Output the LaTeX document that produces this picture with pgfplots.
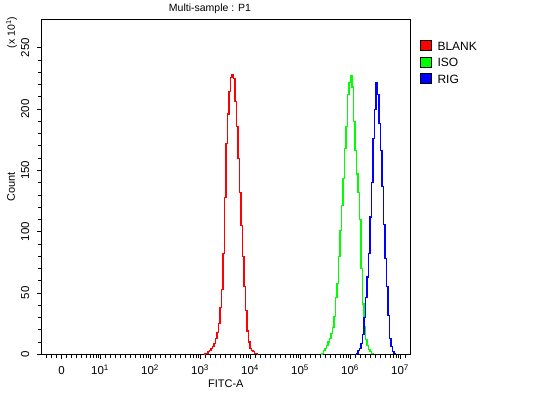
\documentclass[border=0pt]{standalone}
\usepackage{fontspec}
\setmainfont{Liberation Sans}
\usepackage{pgfplots}
\pgfplotsset{compat=1.18}
\begin{document}
\fontsize{11}{13}\selectfont
\begin{tikzpicture}
\path[use as bounding box] (-41.7pt,-38.7pt) rectangle (505.3pt,354.3pt);
\begin{axis}[
  scale only axis, width=368.3pt, height=335pt,
  xmin=-0.166, xmax=7.2, ymin=0, ymax=273.2,
  axis line style={line width=0.8pt},
  xtick pos=bottom, ytick pos=left,
  tick align=outside, major tick length=4.5pt, minor tick length=3.5pt,
  tick style={black, line width=0.7pt},
  xtick={0.23,1,2,3,4,5,6,7},
  xticklabels={0,10\textsuperscript{1},10\textsuperscript{2},10\textsuperscript{3},10\textsuperscript{4},10\textsuperscript{5},10\textsuperscript{6},10\textsuperscript{7}},
  minor xtick={-0.07,0.03,0.13,0.33,0.43,0.53,0.63,0.73,0.8,0.87,0.92,0.97,
    1.1,1.2,1.3,1.4,1.5,1.6,1.7,1.8,1.87,1.92,1.97,
    2.1,2.2,2.3,2.4,2.5,2.6,2.7,2.8,2.87,2.92,2.97,
    3.1,3.2,3.3,3.4,3.5,3.6,3.7,3.8,3.87,3.92,3.97,
    4.1,4.2,4.3,4.4,4.5,4.6,4.7,4.8,4.87,4.92,4.97,
    5.1,5.2,5.3,5.4,5.5,5.6,5.7,5.8,5.87,5.92,5.97,
    6.1,6.2,6.3,6.4,6.5,6.6,6.7,6.8,6.87,6.92,6.97,7.1},
  ytick={0,50,100,150,200,250}, minor y tick num=4,
  xticklabel style={font=\fontsize{11.5}{13}\selectfont, anchor=base, yshift=-16pt},
  yticklabel style={font=\fontsize{11.5}{13}\selectfont, /pgf/number format/assume math mode=true, xshift=-8pt, rotate=90, anchor=base},
  title={Multi-sample : P1},
  title style={font=\fontsize{10.5}{12}\selectfont, at={(axis description cs:0.457,1)}, anchor=base, yshift=1.6pt},
  xlabel={FITC-A},
  xlabel style={font=\fontsize{11}{13}\selectfont, at={(axis description cs:0.5,0)}, anchor=base, yshift=-33pt},
  ylabel={Count},
  ylabel style={font=\fontsize{11}{13}\selectfont, at={(axis description cs:-0.0725,0.5)}, anchor=base},
  legend style={at={(axis description cs:1,1)}, anchor=north west, xshift=10pt, yshift=-20.7pt,
    draw=none, fill=none, inner sep=0pt, row sep=4.5pt,
    font=\fontsize{12}{14}\selectfont,
    nodes={inner sep=0pt},
    /tikz/every odd column/.append style={column sep=5.5pt}},
  legend cell align=left,
  legend image code/.code={\filldraw[#1, draw=black, line width=0.8pt] (0pt,-3.5pt) rectangle (11pt,6.5pt);},
]
\addplot[red, const plot, line width=1.1pt] coordinates {
(3.07,0) (3.10,0.5) (3.13,1) (3.16,2) (3.19,3) (3.22,4.5) (3.25,6) (3.28,9) (3.31,13) (3.34,18)
(3.37,25) (3.40,38) (3.43,53) (3.46,82) (3.49,128) (3.52,172) (3.55,196) (3.58,214)
(3.61,226) (3.64,228) (3.67,225) (3.70,206) (3.73,186) (3.76,160) (3.79,132) (3.82,105)
(3.85,80) (3.88,55) (3.91,36) (3.94,19) (3.97,10) (4.00,5) (4.03,3) (4.06,2) (4.09,1)
(4.12,0.3) (4.15,0)};
\addlegendentry{BLANK}
\addplot[green, const plot, line width=1.1pt] coordinates {
(5.41,0) (5.44,1) (5.47,3) (5.50,5) (5.53,7) (5.56,10) (5.59,13) (5.62,17) (5.65,22)
(5.68,31) (5.71,46) (5.74,58) (5.77,80) (5.80,101) (5.83,121) (5.86,143) (5.89,168)
(5.92,186) (5.95,212) (5.98,222) (6.01,227) (6.04,218) (6.07,190) (6.10,166) (6.13,147)
(6.16,132) (6.19,110) (6.22,70) (6.25,41) (6.28,23) (6.31,12) (6.34,7) (6.37,4)
(6.40,2) (6.43,0.8) (6.46,0)};
\addlegendentry{ISO}
\addplot[blue, const plot, line width=1.1pt] coordinates {
(6.10,0) (6.13,1) (6.16,3) (6.19,5) (6.22,9) (6.25,16) (6.28,30) (6.31,46) (6.34,63)
(6.37,82) (6.40,112) (6.43,140) (6.46,176) (6.49,200) (6.52,222) (6.55,212) (6.58,188)
(6.61,166) (6.64,137) (6.67,106) (6.70,78) (6.73,55) (6.76,32) (6.79,13) (6.82,6)
(6.85,2.5) (6.88,1) (6.91,0)};
\addlegendentry{RIG}
\end{axis}
\node[rotate=90, anchor=base, font=\fontsize{10.5}{12}\selectfont] at (-26.7pt,321.8pt) {(x 10\textsuperscript{1})};
\end{tikzpicture}
\end{document}
